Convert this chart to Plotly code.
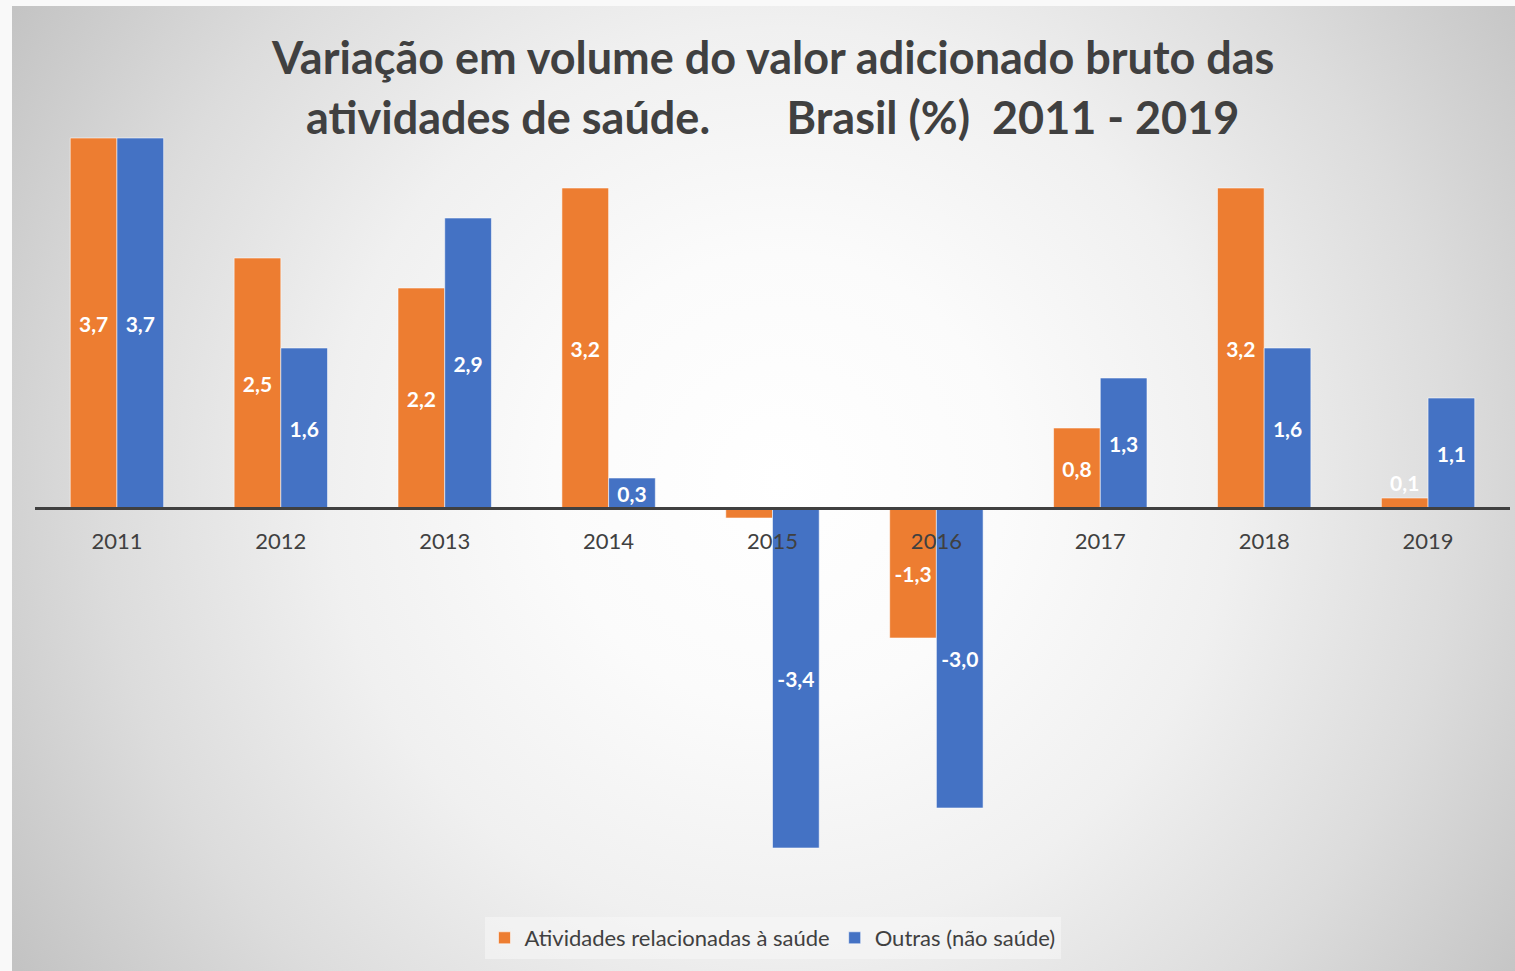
import base64
import plotly.graph_objects as go

years = ["2011", "2012", "2013", "2014", "2015", "2016", "2017", "2018", "2019"]
saude = [3.7, 2.5, 2.2, 3.2, -0.1, -1.3, 0.8, 3.2, 0.1]
outras = [3.7, 1.6, 2.9, 0.3, -3.4, -3.0, 1.3, 1.6, 1.1]
# labels not displayed in the reference (hidden behind the axis label)
hidden_saude = ["2015"]
hidden_outras = []
name_saude = "Atividades relacionadas à saúde"
name_outras = "Outras (não saúde)"
title_line1 = "Variação em volume do valor adicionado bruto das"
title_line2 = "atividades de saúde.\u00a0\u00a0\u00a0\u00a0\u00a0\u00a0\u00a0Brasil (%)\u00a0 2011 - 2019"

ORANGE = "#ED7D31"
BLUE = "#4472C4"
DARK = "#404040"

W, H = 1515, 971
L, R, T, B = 35, 5, 108, 63
plot_w = W - L - R
plot_h = H - T - B
YMIN, YMAX = -4, 4


def fmt(v):
    return f"{v:.1f}".replace(".", ",")


def positions(vals):
    return ["outside" if abs(v) < 0.2 else "inside" for v in vals]


fig = go.Figure()
for name, vals, col, hidden in [(name_saude, saude, ORANGE, hidden_saude),
                                (name_outras, outras, BLUE, hidden_outras)]:
    fig.add_trace(go.Bar(
        x=years, y=vals, name=name,
        marker=dict(color=col, line=dict(color="rgba(255,255,255,0.55)", width=1)),
        text=["" if yr in hidden else fmt(v) for yr, v in zip(years, vals)],
        textposition=positions(vals),
        insidetextanchor="middle",
        constraintext="none",
        textfont=dict(family="Lato", size=21, color="white", weight="bold"),
        outsidetextfont=dict(family="Lato", size=21, color="white", weight="bold"),
        cliponaxis=False,
        hoverinfo="skip",
    ))

# radial gradient background as svg image
bx0, by0 = 12, 6
bw, bh = W - bx0, H - by0
svg = f'''<svg xmlns="http://www.w3.org/2000/svg" width="{bw}" height="{bh}" viewBox="0 0 {bw} {bh}">
<defs><radialGradient id="g" gradientUnits="userSpaceOnUse" cx="{780-bx0}" cy="{480-by0}" r="905">
<stop offset="0" stop-color="#ffffff"/>
<stop offset="0.25" stop-color="#fbfbfb"/>
<stop offset="0.5" stop-color="#f0f0f0"/>
<stop offset="0.75" stop-color="#dcdcdc"/>
<stop offset="1" stop-color="#c3c3c3"/>
</radialGradient></defs>
<rect x="0" y="0" width="{bw}" height="{bh}" fill="url(#g)"/>
</svg>'''
src = "data:image/svg+xml;base64," + base64.b64encode(svg.encode()).decode()

fig.add_layout_image(dict(
    source=src, xref="paper", yref="paper",
    x=(bx0 - L) / plot_w, y=(H - B - by0) / plot_h,
    sizex=bw / plot_w, sizey=bh / plot_h,
    xanchor="left", yanchor="top", sizing="stretch", layer="below",
))


def py(pix):
    return (H - B - pix) / plot_h


cx = (772 - L) / plot_w
fig.add_annotation(text=title_line1, xref="paper", yref="paper", x=cx, y=py(57),
                   xanchor="center", yanchor="middle", showarrow=False,
                   font=dict(family="Lato", size=45, color=DARK, weight="bold"))
fig.add_annotation(text=title_line2, xref="paper", yref="paper", x=cx, y=py(117),
                   xanchor="center", yanchor="middle", showarrow=False,
                   font=dict(family="Lato", size=45, color=DARK, weight="bold"))

fig.update_layout(
    width=W, height=H,
    margin=dict(l=L, r=R, t=T, b=B),
    paper_bgcolor="#f9f9f9",
    plot_bgcolor="rgba(0,0,0,0)",
    barmode="group", bargap=0.43, bargroupgap=0.0,
    showlegend=True,
    legend=dict(orientation="h", x=0.5, xanchor="center", y=py(938), yanchor="middle",
                bgcolor="rgba(246,246,246,0.6)",
                font=dict(family="Lato", size=22, color=DARK),
                itemwidth=30, traceorder="normal"),
    xaxis=dict(
        type="category", range=[-0.5, 8.5],
        anchor="free", position=(0 - YMIN) / (YMAX - YMIN),
        showline=True, linecolor=DARK, linewidth=3,
        ticks="", showgrid=False, zeroline=False,
        tickfont=dict(family="Lato", size=22, color=DARK),
        ticklabelstandoff=13,
    ),
    yaxis=dict(range=[YMIN, YMAX], visible=False, showgrid=False, zeroline=False),
)

fig.write_html("out.html", config={"displayModeBar": False},
               post_script="document.body.style.margin='0';")
